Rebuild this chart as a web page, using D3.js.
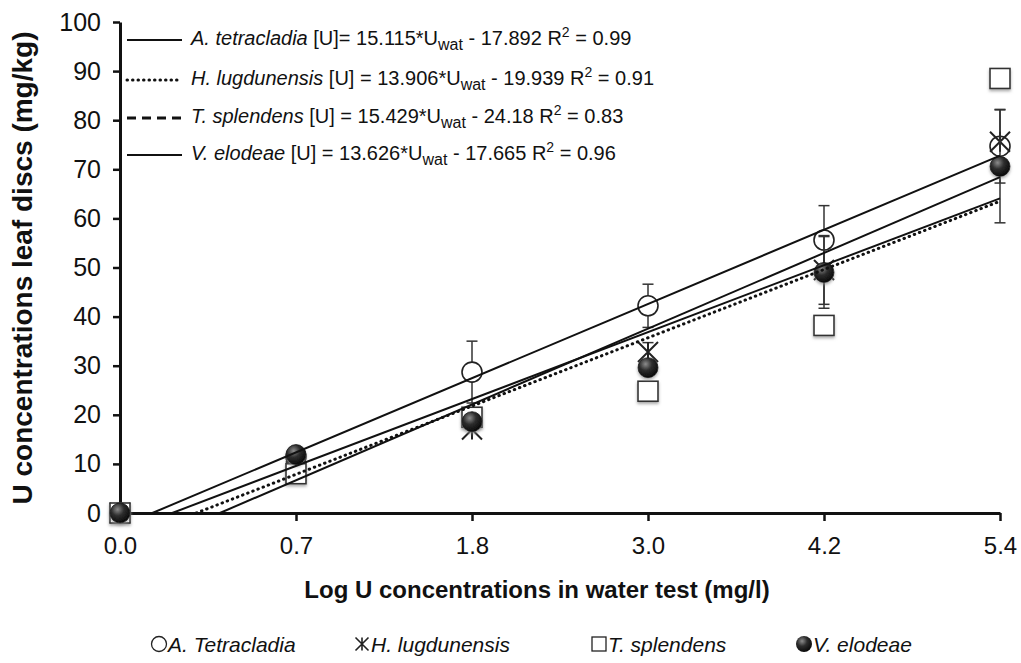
<!DOCTYPE html>
<html>
<head>
<meta charset="utf-8">
<script src="https://cdn.jsdelivr.net/npm/d3@7"></script>
<style>
  body { margin: 0; background: #fff; }
  svg { display: block; font-family: "Liberation Sans", Arial, sans-serif; }
</style>
</head>
<body>
<svg id="chart" width="1021" height="663"></svg>
<script>
// Category ticks on the x axis (Excel line-style category axis)
const xLabels = ["0.0", "0.7", "1.8", "3.0", "4.2", "5.4"];
const yTicks = [0, 10, 20, 30, 40, 50, 60, 70, 80, 90, 100];

// Species and trendline equations
const species = ["A. tetracladia", "H. lugdunensis", "T. splendens", "V. elodeae"];
const legendNames = ["A. Tetracladia", "H. lugdunensis", "T. splendens", "V. elodeae"];
const slopes = [15.115, 13.906, 15.429, 13.626];
const intercepts = [17.892, 19.939, 24.18, 17.665];
const r2 = ["0.99", "0.91", "0.83", "0.96"];

// Measured means and error bars (mg/kg)
const aMean = [0, 11.5, 28.7, 42.2, 55.6, 74.7];
const aErr = [0, 0, 6.3, 4.4, 7.0, 7.5];
const hMean = [0, 8.5, 17.0, 32.8, 49.5, 75.6];
const hErr = [0, 0, 0, 1.9, 7.0, 0];
const tMean = [0, 8.0, 19.5, 24.8, 38.2, 88.5];
const tErr = [0, 0, 0, 0, 0, 0];
const vMean = [0, 11.9, 18.6, 29.6, 49.0, 70.6];
const vErr = [0, 0, 0, 0, 7.3, 11.5];

const series = [
  { mean: aMean, err: aErr, marker: "circle" },
  { mean: hMean, err: hErr, marker: "star" },
  { mean: tMean, err: tErr, marker: "square" },
  { mean: vMean, err: vErr, marker: "ball" },
];
const lineDash = [null, "0.5,5", null, null];
const legendDash = [null, "0.5,5", "9,6", null];

const svg = d3.select("#chart");
const ink = "#111";

// Gradients / filters
const defs = svg.append("defs");
const grad = defs.append("radialGradient").attr("id", "ball")
  .attr("cx", "38%").attr("cy", "32%").attr("r", "70%");
grad.append("stop").attr("offset", "0%").attr("stop-color", "#8c8c8c");
grad.append("stop").attr("offset", "45%").attr("stop-color", "#2e2e2e");
grad.append("stop").attr("offset", "100%").attr("stop-color", "#080808");
const shadow = defs.append("filter").attr("id", "shadow")
  .attr("x", "-40%").attr("y", "-40%").attr("width", "180%").attr("height", "180%");
shadow.append("feDropShadow").attr("dx", 0).attr("dy", 2)
  .attr("stdDeviation", 1.5).attr("flood-color", "#888").attr("flood-opacity", 0.7);

// Scales
const x = d3.scalePoint().domain(xLabels).range([120, 1000]).padding(0);
const xIdx = d3.scaleLinear().domain([1, xLabels.length]).range([120, 1000]);
const y = d3.scaleLinear().domain([0, 100]).range([513, 22]);

// Y axis
const yAxis = svg.append("g")
  .attr("transform", "translate(120,0)")
  .call(d3.axisLeft(y).tickValues(yTicks).tickSize(7).tickSizeOuter(0).tickPadding(12));
yAxis.selectAll("text").attr("font-size", 25).attr("fill", ink).attr("font-family", null);
yAxis.selectAll("line").attr("stroke", ink).attr("stroke-width", 2.5);
yAxis.select(".domain").attr("stroke", ink).attr("stroke-width", 3);

// X axis
const xAxis = svg.append("g")
  .attr("transform", "translate(0,513)")
  .call(d3.axisBottom(x).tickSize(8).tickSizeOuter(0).tickPadding(16));
xAxis.selectAll("text").attr("font-size", 24).attr("fill", ink).attr("font-family", null);
xAxis.selectAll("line").attr("stroke", ink).attr("stroke-width", 2.5);
xAxis.select(".tick line").remove();
xAxis.select(".domain").attr("stroke", ink).attr("stroke-width", 3);

// Axis titles
svg.append("text")
  .attr("transform", "translate(32,268) rotate(-90)")
  .attr("text-anchor", "middle")
  .attr("font-size", 28).attr("font-weight", "bold").attr("fill", ink)
  .text("U concentrations leaf discs (mg/kg)");

svg.append("text")
  .attr("x", 537).attr("y", 598)
  .attr("text-anchor", "middle")
  .attr("font-size", 24).attr("font-weight", "bold").attr("fill", ink)
  .text("Log U concentrations in water test (mg/l)");

// Marker drawing helper
function drawMarker(g, kind, size) {
  const s = size;
  if (kind === "circle") {
    g.append("circle").attr("r", s).attr("fill", "#fff")
      .attr("stroke", "#222").attr("stroke-width", 1.6);
  } else if (kind === "ball") {
    g.append("circle").attr("r", s).attr("fill", "url(#ball)")
      .attr("stroke", "#111").attr("stroke-width", 0.8)
      .attr("filter", "url(#shadow)");
  } else if (kind === "square") {
    g.append("rect").attr("x", -s).attr("y", -s).attr("width", 2 * s).attr("height", 2 * s)
      .attr("fill", "#fff").attr("stroke", "#333").attr("stroke-width", 1.6)
      .attr("filter", "url(#shadow)");
  } else if (kind === "star") {
    const p = d3.path();
    p.moveTo(-s, -s); p.lineTo(s, s);
    p.moveTo(-s, s); p.lineTo(s, -s);
    p.moveTo(0, -s); p.lineTo(0, s);
    g.append("path").attr("d", p.toString()).attr("fill", "none")
      .attr("stroke", "#222").attr("stroke-width", 2);
  }
}

// Error bars and markers
const plot = svg.append("g");
series.forEach((s) => {
  const g = plot.append("g");
  s.mean.forEach((m, i) => {
    const e = s.err[i];
    if (e > 0) {
      const cx = x(xLabels[i]);
      g.append("line").attr("x1", cx).attr("x2", cx)
        .attr("y1", y(m - e)).attr("y2", y(m + e))
        .attr("stroke", "#333").attr("stroke-width", 1.5);
      [m - e, m + e].forEach((v) => {
        g.append("line").attr("x1", cx - 5.5).attr("x2", cx + 5.5)
          .attr("y1", y(v)).attr("y2", y(v))
          .attr("stroke", "#333").attr("stroke-width", 1.5);
      });
    }
  });
  s.mean.forEach((m, i) => {
    const mg = g.append("g").attr("transform", `translate(${x(xLabels[i])},${y(m)})`);
    drawMarker(mg, s.marker, 10);
  });
});

// Trendlines: y = slope * index - intercept, drawn from where they cross 0
slopes.forEach((m, k) => {
  const b = intercepts[k];
  const i0 = b / m;
  const i1 = xLabels.length;
  svg.append("line")
    .attr("x1", xIdx(i0)).attr("y1", y(0))
    .attr("x2", xIdx(i1)).attr("y2", y(m * i1 - b))
    .attr("stroke", ink)
    .attr("stroke-width", lineDash[k] ? 3 : 2)
    .attr("stroke-linecap", lineDash[k] ? "round" : "butt")
    .attr("stroke-dasharray", lineDash[k]);
});

// Equation legend at top
const rowY = [45, 85, 123, 160];
species.forEach((name, k) => {
  const ly = rowY[k] - 5;
  svg.append("line")
    .attr("x1", 127).attr("x2", 182).attr("y1", ly).attr("y2", ly)
    .attr("stroke", ink)
    .attr("stroke-width", legendDash[k] ? 3 : 1.8)
    .attr("stroke-linecap", legendDash[k] === "0.5,5" ? "round" : "butt")
    .attr("stroke-dasharray", legendDash[k]);
  const t = svg.append("text").attr("x", 191).attr("y", rowY[k])
    .attr("font-size", 20).attr("fill", ink);
  t.append("tspan").attr("font-style", "italic").text(name);
  t.append("tspan").text((k === 0 ? " [U]= " : " [U] = ") + slopes[k] + "*U");
  t.append("tspan").attr("font-size", 16).attr("dy", 5).text("wat");
  t.append("tspan").attr("dy", -5).text(" - " + intercepts[k] + " R");
  t.append("tspan").attr("font-size", 14).attr("dy", -8).text("2");
  t.append("tspan").attr("dy", 8).text(" = " + r2[k]);
});

// Marker legend at bottom
const legX = [151, 354, 591, 796];
const markers = ["circle", "star", "square", "ball"];
legendNames.forEach((name, k) => {
  const g = svg.append("g").attr("transform", `translate(${legX[k]},644)`);
  const mg = g.append("g").attr("transform", "translate(8,0)");
  if (markers[k] === "circle") {
    mg.append("circle").attr("r", 7.5).attr("fill", "#fff").attr("stroke", "#222").attr("stroke-width", 1.3);
  } else if (markers[k] === "star") {
    drawMarker(mg, "star", 6.5);
    mg.select("path").attr("stroke-width", 1.6);
  } else if (markers[k] === "square") {
    mg.append("rect").attr("x", -7).attr("y", -7).attr("width", 14).attr("height", 14)
      .attr("fill", "#fff").attr("stroke", "#222").attr("stroke-width", 1.3);
  } else {
    mg.append("circle").attr("r", 8).attr("fill", "url(#ball)");
  }
  g.append("text").attr("x", 17).attr("y", 8)
    .attr("font-size", 21).attr("font-style", "italic").attr("fill", ink)
    .text(name);
});
</script>
</body>
</html>
